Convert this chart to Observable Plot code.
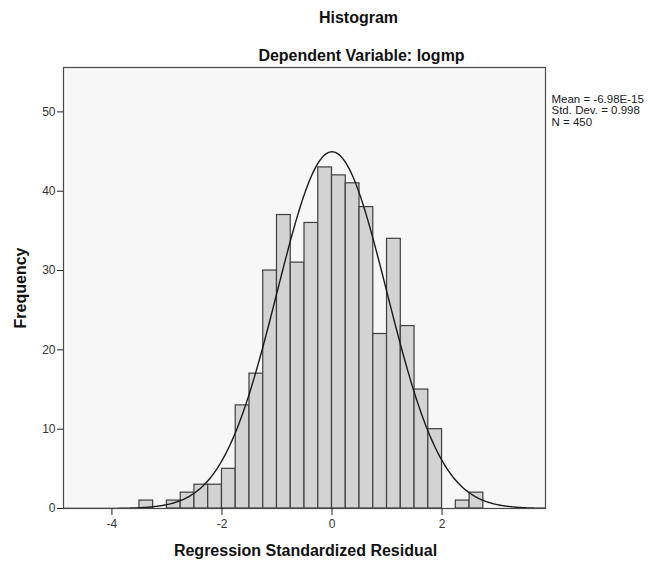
<!DOCTYPE html>
<html>
<head>
<meta charset="utf-8">
<script src="https://cdn.jsdelivr.net/npm/d3@7"></script>
<script src="https://cdn.jsdelivr.net/npm/@observablehq/plot@0.6"></script>
<style>
  body { margin: 0; background: #fff; }
  #chart svg { display: block; }
</style>
</head>
<body>
<div id="chart"></div>
<script>
// Histogram bins (lower edges) and frequencies
const binLower = [-3.5, -3.25, -3.0, -2.75, -2.5, -2.25, -2.0, -1.75, -1.5, -1.25, -1.0, -0.75, -0.5, -0.25, 0, 0.25, 0.5, 0.75, 1.0, 1.25, 1.5, 1.75, 2.0, 2.25, 2.5];
const counts   = [1,    0,     1,    2,     3,    3,     5,    13,    17,   30,    37,   31,    36,   43,    42, 41,   38,  22,   34,  23,   15,  10,   0,   1,    2];
const binWidth = 0.25;

// Summary statistics shown in the legend
const statMean = -6.98e-15;
const statSD = 0.998;
const statN = 450;
const statLabels = ["Mean = -6.98E-15", "Std. Dev. = 0.998", "N = 450"];

// Tick values
const xTicks = [-4, -2, 0, 2];
const yTicks = [0, 10, 20, 30, 40, 50];

const bins = binLower.map((lo, i) => ({x1: lo, x2: lo + binWidth, y: counts[i]})).filter(d => d.y > 0);

// Fitted normal curve from the reported mean, sd and N
const xDomain = [-4.88, 3.88];
const curve = d3.range(xDomain[0], xDomain[1] + 0.001, 0.02).map(x => ({
  x,
  y: statN * binWidth * Math.exp(-0.5 * ((x - statMean) / statSD) ** 2) / (statSD * Math.sqrt(2 * Math.PI))
}));

const font = "'Liberation Sans', Arial, Helvetica, sans-serif";

const chart = Plot.plot({
  width: 651,
  height: 565,
  marginLeft: 63,
  marginRight: 106,
  marginTop: 67,
  marginBottom: 57,
  style: {fontFamily: font, fontSize: "11px", background: "#fff", color: "#222", overflow: "visible"},
  x: {domain: xDomain, label: null},
  y: {domain: [0, 55.6], label: null},
  marks: [
    Plot.frame({fill: "#f7f7f7", stroke: "none"}),
    Plot.rectY(bins, {x1: "x1", x2: "x2", y: "y", fill: "#d3d3d3", stroke: "#3f3f3f", strokeWidth: 1.2}),
    Plot.line(curve, {x: "x", y: "y", stroke: "#1a1a1a", strokeWidth: 1.4, clip: true}),
    Plot.frame({stroke: "#4a4a4a", strokeWidth: 1.2}),
    Plot.axisY({ticks: yTicks, tickSize: 6, tickPadding: 2, label: null, stroke: "#222", fontSize: 12, fill: "#333"}),
    Plot.axisX({ticks: xTicks, tickSize: 7, tickPadding: 4, label: null, stroke: "#222", fontSize: 12, fill: "#333", tickFormat: d => d < 0 ? "-" + Math.abs(d) : String(d)}),
    Plot.text(["Histogram"], {frameAnchor: "top", dx: 54, dy: -50, lineAnchor: "middle", textAnchor: "middle", fontSize: 16, fontWeight: "bold", fill: "#111"}),
    Plot.text(["Dependent Variable: logmp"], {frameAnchor: "top", dx: 57, dy: -12, lineAnchor: "middle", textAnchor: "middle", fontSize: 16, fontWeight: "bold", fill: "#111"}),
    Plot.text(["Frequency"], {frameAnchor: "left", dx: -43, rotate: -90, lineAnchor: "middle", textAnchor: "middle", fontSize: 16, fontWeight: "bold", fill: "#111"}),
    Plot.text(["Regression Standardized Residual"], {frameAnchor: "bottom", dx: 1, dy: 42, lineAnchor: "middle", textAnchor: "middle", fontSize: 16, fontWeight: "bold", fill: "#111"}),
    Plot.text([statLabels.join("\n")], {frameAnchor: "top-right", dx: 6, dy: 43, textAnchor: "start", lineAnchor: "middle", lineHeight: 1.0, fontSize: 11.5, fill: "#222"})
  ]
});
document.getElementById("chart").appendChild(chart);
</script>
</body>
</html>
